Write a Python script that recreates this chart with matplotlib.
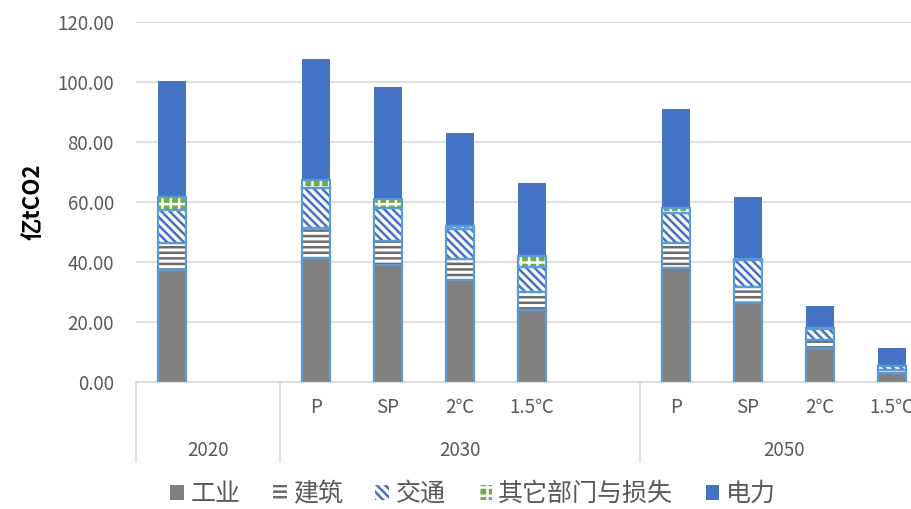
import matplotlib
matplotlib.use('Agg')
import matplotlib.pyplot as plt
import matplotlib.transforms as mtransforms
from matplotlib.patches import Patch
import numpy as np

plt.rcParams['font.family'] = ['Noto Sans CJK SC', 'DejaVu Sans']
plt.rcParams['hatch.linewidth'] = 1.8

# slots on the category axis (empty strings are gaps)
sub_labels = ['', '', 'P', 'SP', '2℃', '1.5℃', '', 'P', 'SP', '2℃', '1.5℃']
groups = ['2020', '2030', '2050']
group_slots = [2, 5, 4]
bar_slots = [0, 2, 3, 4, 5, 7, 8, 9, 10]

sectors = ['工业', '建筑', '交通', '其它部门与损失', '电力']
industry = [37.3, 41.3, 39.0, 34.0, 24.0, 38.0, 26.3, 11.3, 3.0]
building = [9.0, 10.0, 8.0, 7.0, 6.0, 8.3, 5.4, 2.7, 1.0]
transport = [11.0, 13.4, 11.0, 10.0, 8.5, 10.0, 9.0, 3.7, 1.3]
other = [4.4, 2.6, 3.0, 1.0, 3.5, 1.7, 0.3, 0.2, 0.1]
power = [38.6, 40.2, 37.3, 31.0, 24.5, 33.0, 20.7, 7.6, 5.9]

series = [industry, building, transport, other, power]
faces = ['#7F7F7F', 'white', 'white', '#70AD47', '#4472C4']
hatch_cols = ['#7F7F7F', '#6B6B6B', '#4472C4', 'white', '#4472C4']
hatches = [None, '---', '\\\\\\\\', '++', None]
outline = '#5B9BD5'
txt_col = '#595959'

fig = plt.figure(figsize=(9.12, 5.09), dpi=100)
ax = fig.add_axes([136 / 912, 127 / 509, 792 / 912, 360 / 509])

x = np.array(bar_slots)
w = 0.39
bottom = np.zeros(len(x))
for i, vals in enumerate(series):
    vals = np.array(vals)
    ax.bar(x, vals, w, bottom=bottom, color=faces[i], edgecolor=hatch_cols[i],
           hatch=hatches[i], linewidth=0, zorder=3)
    if i < 4:
        ax.bar(x, vals, w, bottom=bottom, fill=False, edgecolor=outline,
               linewidth=1.6, zorder=4)
    bottom += vals

ax.set_xlim(-0.5, 10.5)
ax.set_ylim(0, 120)
ax.set_yticks(np.arange(0, 121, 20))
ax.set_yticklabels([f'{v:.2f}' for v in np.arange(0, 121, 20)])
ax.yaxis.grid(True, color='#D9D9D9', linewidth=1.2, zorder=0)
ax.set_axisbelow(True)
for s in ['top', 'right', 'left']:
    ax.spines[s].set_visible(False)
ax.spines['bottom'].set_color('#D9D9D9')
ax.spines['bottom'].set_linewidth(1.2)
ax.tick_params(axis='y', length=0, labelsize=13.5, labelcolor=txt_col, pad=16)

ax.set_xticks(range(len(sub_labels)))
ax.set_xticklabels(sub_labels)
ax.tick_params(axis='x', length=0, labelsize=13.5, labelcolor=txt_col, pad=11)

ax.set_ylabel('亿tCO2', fontsize=16, fontweight='bold', labelpad=9)

# group labels and separators under the axis
trans = mtransforms.blended_transform_factory(ax.transData, ax.transAxes)
edges = np.concatenate([[0], np.cumsum(group_slots)]) - 0.5
for j, g in enumerate(groups):
    mid = (edges[j] + edges[j + 1]) / 2
    ax.text(mid, -0.19, g, transform=trans, ha='center', va='center',
            fontsize=13.5, color=txt_col)
for e in edges[:-1]:
    ax.plot([e, e], [0, -0.222], transform=trans, color='#D9D9D9',
            linewidth=1.2, clip_on=False)

handles = [Patch(facecolor=faces[i], edgecolor=hatch_cols[i], hatch=hatches[i],
                 linewidth=0) for i in range(5)]
fig.legend(handles, sectors, loc='center', bbox_to_anchor=(473 / 912, 15 / 509),
           ncol=5, frameon=False, fontsize=18, handlelength=0.55,
           handleheight=0.55, handletextpad=0.25, columnspacing=1.3,
           labelcolor=txt_col)

fig.savefig('out.png', dpi=100)
